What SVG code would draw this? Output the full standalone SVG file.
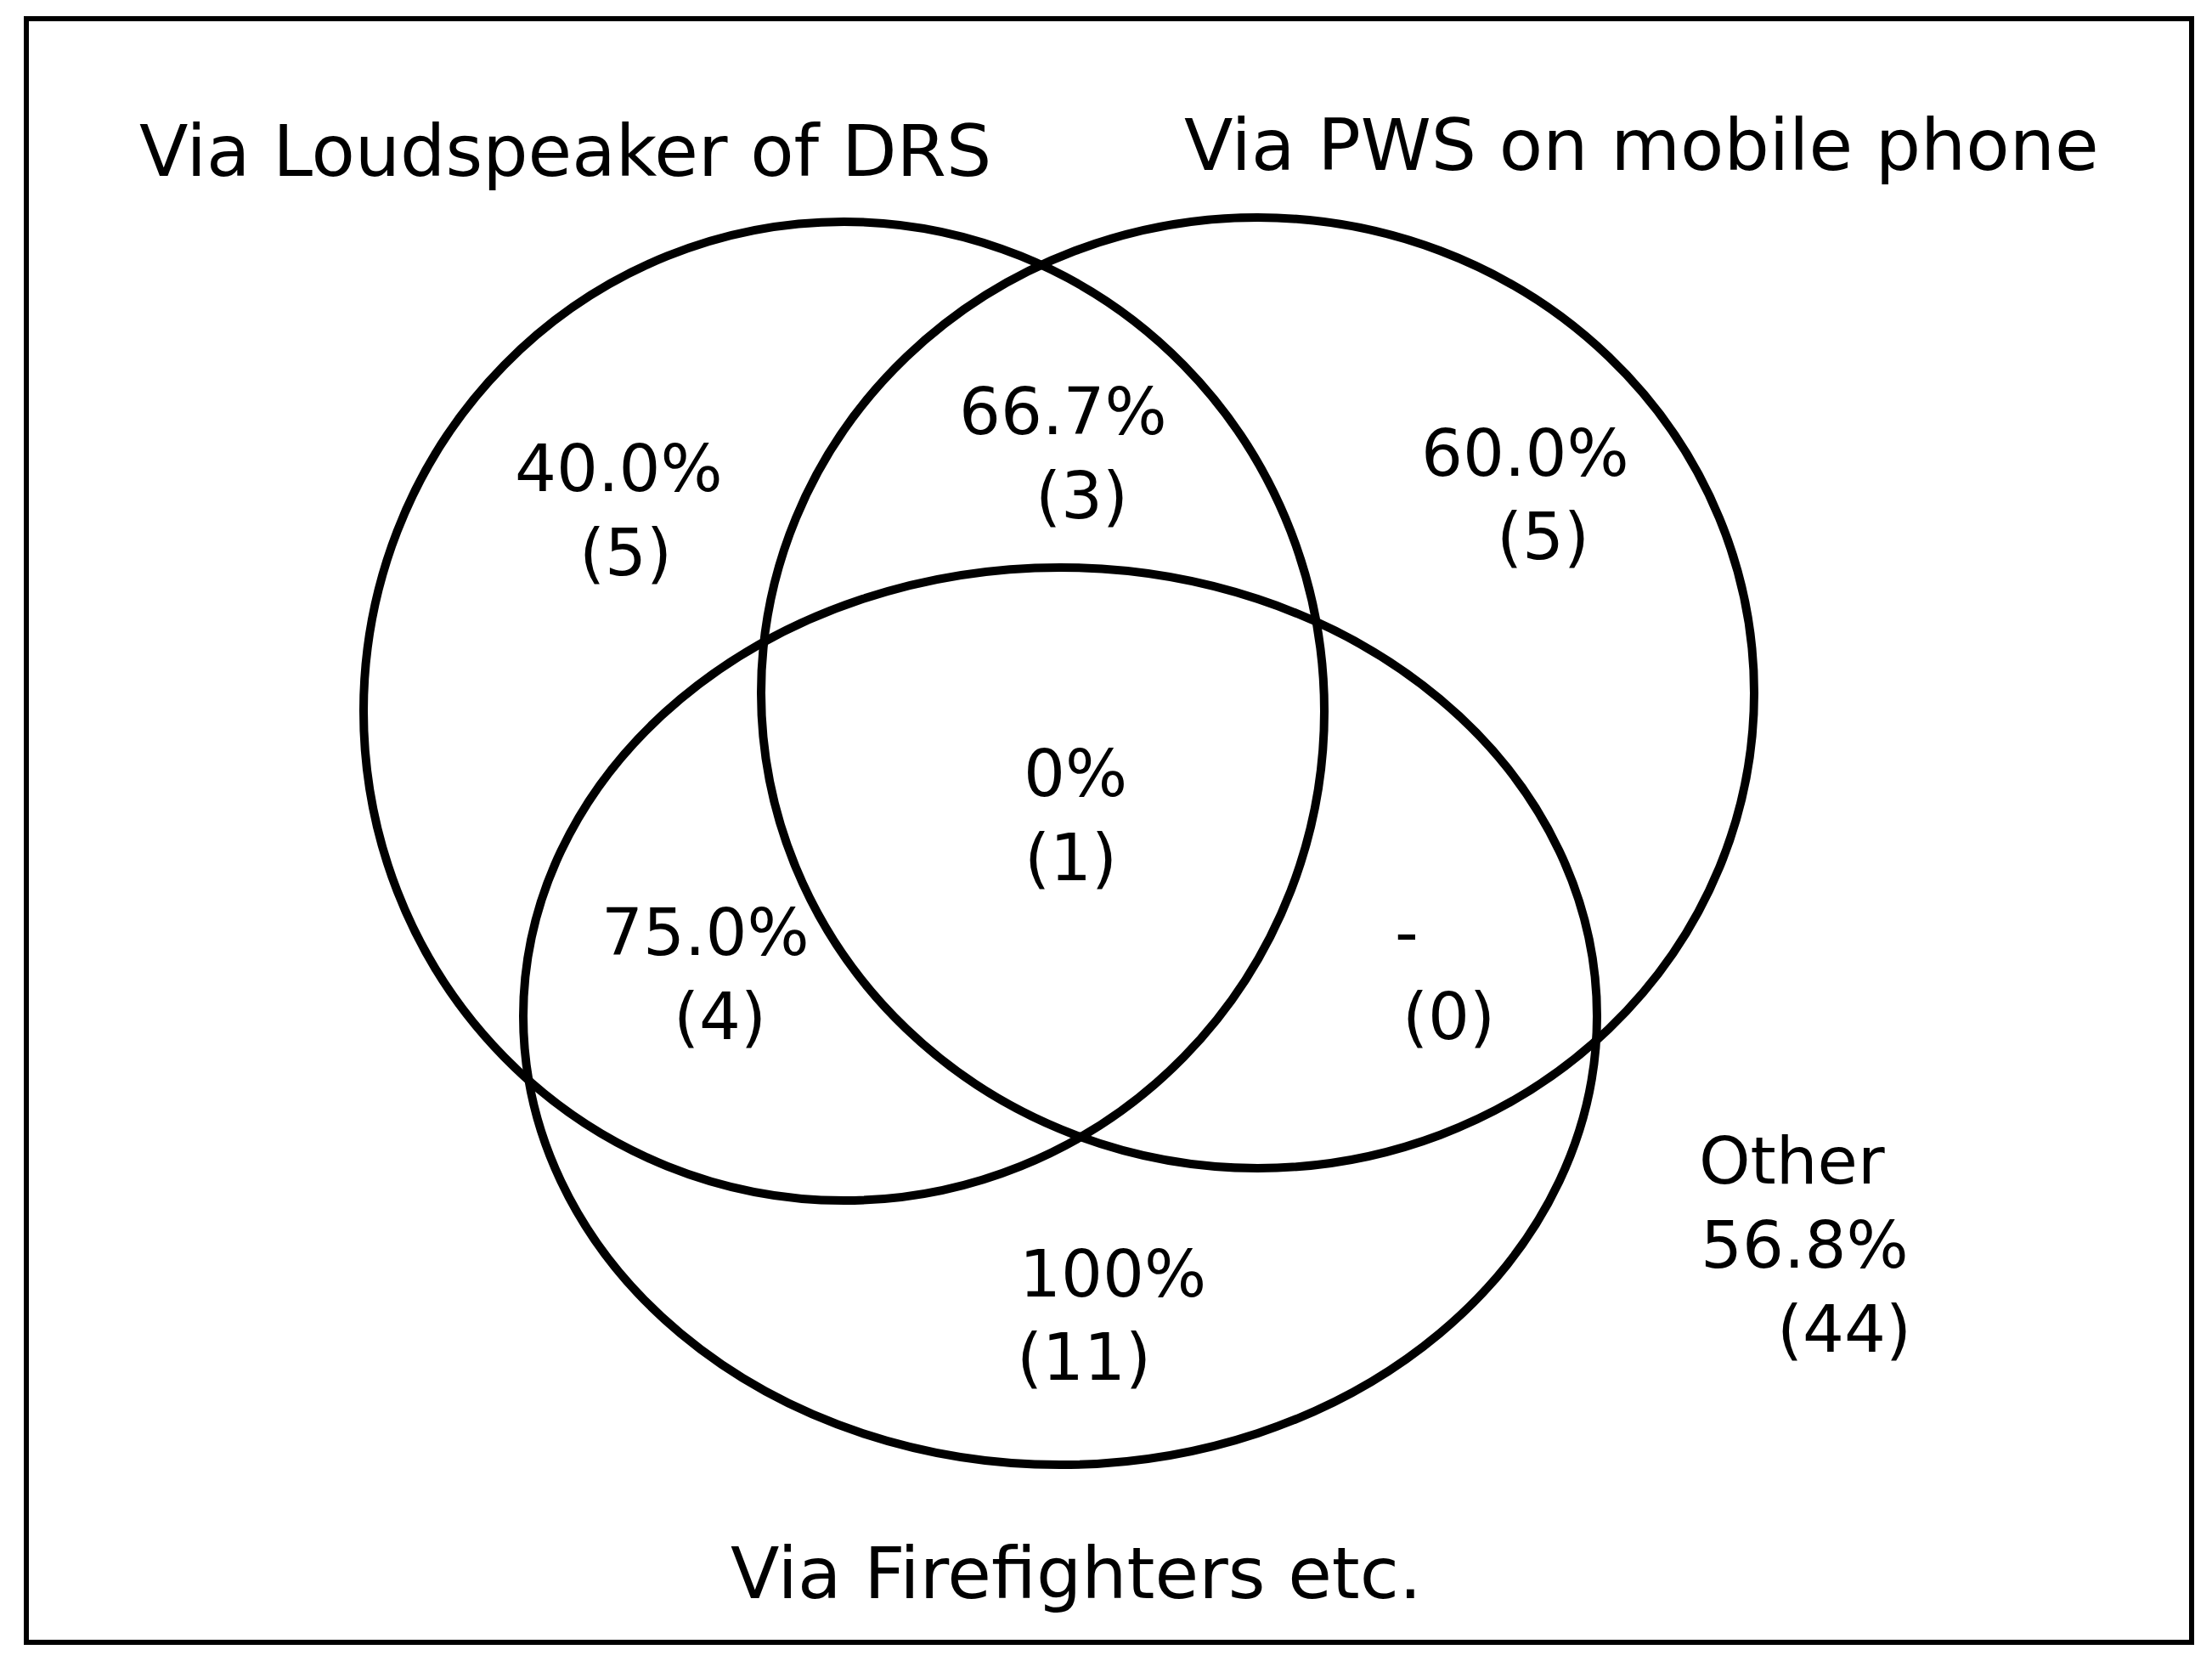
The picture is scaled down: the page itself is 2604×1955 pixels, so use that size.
<svg xmlns="http://www.w3.org/2000/svg" width="2604" height="1955" viewBox="0 0 2604 1955">
<style>
.set{fill:none;stroke:#000;stroke-width:10}
.frame{fill:#fff;stroke:#000;stroke-width:6}
.title{font-family:"DejaVu Sans","Liberation Sans",sans-serif;font-size:84px;fill:#000}
.lbl{font-family:"DejaVu Sans","Liberation Sans",sans-serif;font-size:77px;fill:#000}
</style>
<rect width="2604" height="1955" fill="#fff"/>
<rect class="frame" x="31" y="22" width="2549" height="1911"/>
<g id="connectors"></g>
<g id="set-loudspeaker">
<ellipse class="set" cx="993.5" cy="837" rx="565.5" ry="576"/>
<text class="title" x="164" y="207">Via Loudspeaker of DRS</text>
</g>
<g id="set-pws">
<ellipse class="set" cx="1480.5" cy="815.5" rx="584.5" ry="559.5"/>
<text class="title" x="1394" y="200">Via PWS on mobile phone</text>
</g>
<g id="set-firefighters">
<ellipse class="set" cx="1248" cy="1196" rx="632" ry="528"/>
<text class="title" x="860" y="1881">Via Firefighters etc.</text>
</g>
<g id="region-a-only">
<text class="lbl" x="606" y="578">40.0%</text>
<text class="lbl" x="682" y="677">(5)</text>
</g>
<g id="region-ab">
<text class="lbl" x="1129" y="511">66.7%</text>
<text class="lbl" x="1219" y="610">(3)</text>
</g>
<g id="region-b-only">
<text class="lbl" x="1673" y="560">60.0%</text>
<text class="lbl" x="1762" y="658">(5)</text>
</g>
<g id="region-abc">
<text class="lbl" x="1205" y="937">0%</text>
<text class="lbl" x="1206" y="1036">(1)</text>
</g>
<g id="region-ac">
<text class="lbl" x="708" y="1124">75.0%</text>
<text class="lbl" x="793" y="1223">(4)</text>
</g>
<g id="region-bc">
<text class="lbl" x="1642" y="1124">-</text>
<text class="lbl" x="1651" y="1223">(0)</text>
</g>
<g id="region-c-only">
<text class="lbl" x="1200" y="1526">100%</text>
<text class="lbl" x="1197" y="1624">(11)</text>
</g>
<g id="region-other">
<text class="lbl" x="2000" y="1393">Other</text>
<text class="lbl" x="2002" y="1492">56.8%</text>
<text class="lbl" x="2092" y="1591">(44)</text>
</g>
</svg>
